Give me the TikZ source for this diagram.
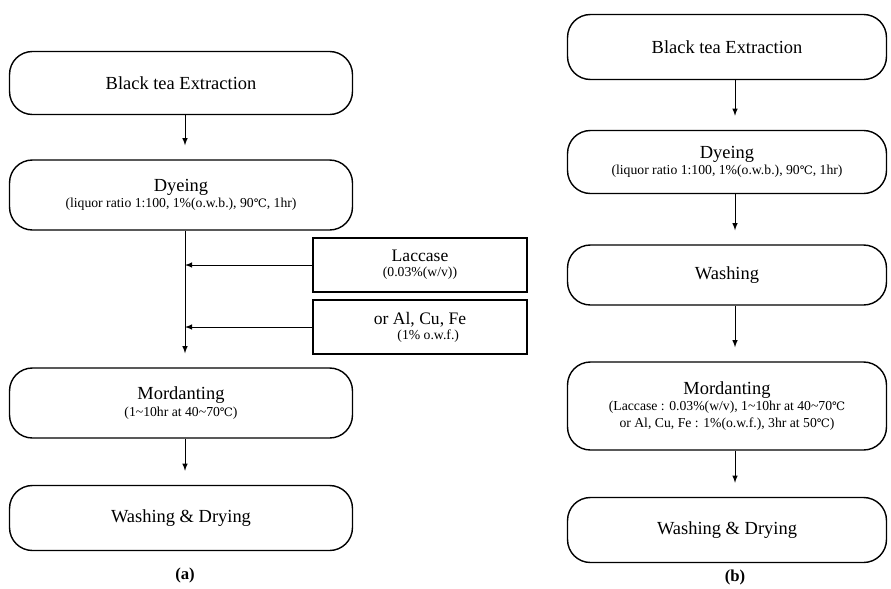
\documentclass[tikz,border=0pt]{standalone}
\usepackage{fontspec}
\setmainfont{Liberation Serif}
\newfontfamily\symfont{DejaVu Serif}
\tikzset{
  stage/.style={draw, thick, rounded corners=13pt, align=center, inner sep=2pt,
    font=\fontsize{10.5}{12}\selectfont},
  addbox/.style={draw, thick, align=center, minimum width=4.28cm, minimum height=1.08cm,
    font=\fontsize{10}{11}\selectfont}
}
\newcommand{\sub}{\\[-2.5pt]\fontsize{7.8}{9}\selectfont}
\newcommand{\degc}{{\symfont\scalebox{0.85}{℃}}}
\begin{document}
\begin{tikzpicture}[x=0.02cm, y=-0.02cm, >=latex]
\useasboundingbox (0,0) rectangle (891,588);
% (a)
\draw(181,83) node[stage, minimum width=6.86cm, minimum height=1.26cm] (a1) {Black tea Extraction};
\draw(181,195) node[stage, minimum width=6.86cm, minimum height=1.4cm] (a2) {Dyeing\sub (liquor ratio 1:100, 1\%(o.w.b.), 90\degc, 1hr)};
\draw(181,403) node[stage, minimum width=6.86cm, minimum height=1.4cm] (a3) {Mordanting\sub (1\textasciitilde10hr at 40\textasciitilde70\degc)};
\draw(181,518) node[stage, minimum width=6.86cm, minimum height=1.3cm] (a4) {Washing \& Drying};
\draw(420,265) node[addbox] (lac) {Laccase\sub (0.03\%(w/v))};
\draw(420,327) node[addbox] (met) {or Al, Cu, Fe\sub\hspace*{1.2em}(1\% o.w.f.)};
\draw(185,575) node[font=\bfseries\fontsize{9.5}{11}\selectfont] (la) {(a)};
\coordinate (ja) at (185,268);
\draw[->] (a1.south -| ja) -- ([yshift=8pt]a2.north -| ja);
\draw[->] (a2.south -| ja) -- ([yshift=8pt]a3.north -| ja);
\draw[->] (a3.south -| ja) -- ([yshift=8pt]a4.north -| ja);
\draw[->] (lac.west) -- (lac.west -| ja);
\draw[->] (met.west) -- (met.west -| ja);
% (b)
\draw(727,47) node[stage, minimum width=6.38cm, minimum height=1.3cm] (b1) {Black tea Extraction};
\draw(727,162) node[stage, minimum width=6.38cm, minimum height=1.26cm] (b2) {Dyeing\sub (liquor ratio 1:100, 1\%(o.w.b.), 90\degc, 1hr)};
\draw(727,275) node[stage, minimum width=6.38cm, minimum height=1.2cm] (b3) {Washing};
\draw(727,406) node[stage, minimum width=6.38cm, minimum height=1.76cm] (b4) {Mordanting\sub (Laccase : 0.03\%(w/v), 1\textasciitilde10hr at 40\textasciitilde70\degc\sub or Al, Cu, Fe : 1\%(o.w.f.), 3hr at 50\degc)};
\draw(727,530) node[stage, minimum width=6.38cm, minimum height=1.3cm] (b5) {Washing \& Drying};
\draw(735,577) node[font=\bfseries\fontsize{9.5}{11}\selectfont] (lb) {(b)};
\coordinate (jc) at (735,0);
\foreach \x/\y in {b1/b2,b2/b3,b3/b4,b4/b5}
  \draw[->] (\x.south -| jc) -- ([yshift=8pt]\y.north -| jc);
\end{tikzpicture}
\end{document}
